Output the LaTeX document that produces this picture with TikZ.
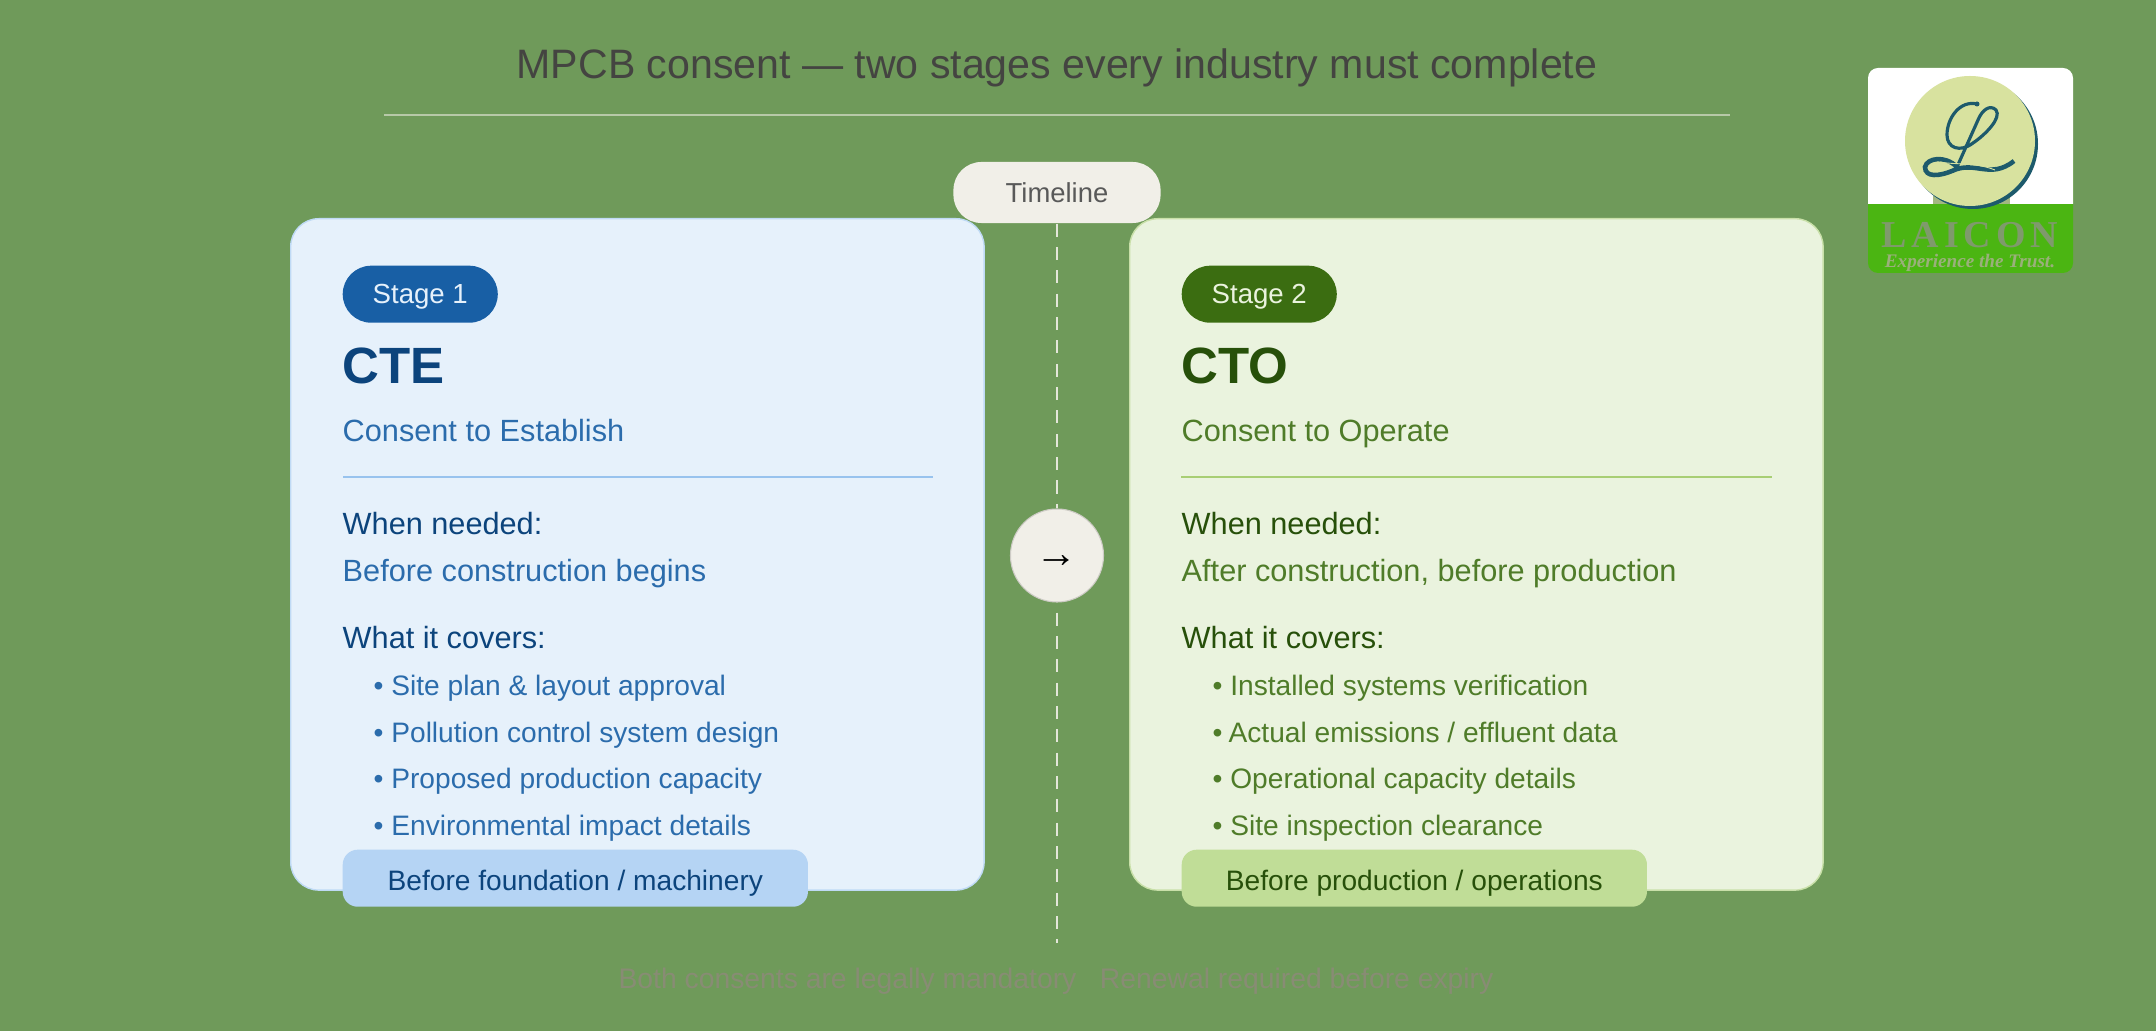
\documentclass[tikz,border=0pt]{standalone}
\usepackage{fontspec}
\setmainfont{Liberation Sans}
\newfontfamily\logofont{Liberation Serif}
\usetikzlibrary{positioning}
\definecolor{bggreen}{HTML}{6F9A5A}
\definecolor{blueA}{HTML}{E6F1FB}
\definecolor{blueB}{HTML}{B5D4F4}
\definecolor{blueC}{HTML}{85B7EB}
\definecolor{blueD}{HTML}{185FA5}
\definecolor{blueE}{HTML}{0C447C}
\definecolor{greenA}{HTML}{EAF3DE}
\definecolor{greenB}{HTML}{C0DD97}
\definecolor{greenC}{HTML}{97C459}
\definecolor{greenD}{HTML}{3B6D11}
\definecolor{greenE}{HTML}{27500A}
\definecolor{stone}{HTML}{F1EFE8}
\definecolor{titlegray}{HTML}{444441}
\definecolor{footgray}{HTML}{888C74}
\definecolor{logogreen}{HTML}{4BB512}
\definecolor{logodisc}{HTML}{D8E29F}
\definecolor{logoteal}{HTML}{1D5A6C}
\definecolor{logotext}{HTML}{7F9A6C}
\colorlet{bluetxt}{blueD!92!white}
\colorlet{greentxt}{greenD!90!white}
\tikzset{
  txt/.style={inner sep=0pt,anchor=base west,font=\fontsize{#1}{#1}\selectfont},
  card/.style={draw=#1,line width=0.4pt,rounded corners=0.28cm,anchor=north west,inner sep=0pt,
    minimum width=6.93cm,minimum height=6.71cm},
  stagepill/.style={inner sep=0pt,anchor=north west,rounded corners=0.285cm,minimum width=1.55cm,
    minimum height=0.57cm,text height=8pt,text depth=2.5pt,font=\fontsize{7.85}{8}\selectfont},
  tagbox/.style={inner sep=0pt,anchor=north west,rounded corners=0.15cm,minimum width=4.65cm,
    minimum height=0.57cm,text height=9.4pt,text depth=2.5pt,font=\fontsize{8}{8}\selectfont},
  rule/.style={line width=0.45pt},
  timeline/.style={draw=stone!90!bggreen,line width=0.75pt,dash pattern=on 0.13cm off 0.1033cm}
}
\begin{document}
\begin{tikzpicture}[x=0.01cm,y=-0.01cm]
\useasboundingbox (0,0) rectangle (2156,1031);
\fill[bggreen] (0,0) rectangle (2156,1031);
%title
\node[inner sep=0pt,anchor=base,text=titlegray,font=\fontsize{11.69}{12}\selectfont] (title) at (1057,79) {MPCB consent --- two stages every industry must complete};
\coordinate (titleL) at (384,115);
\coordinate (titleR) at (1730,115);
\draw[stone!55!bggreen,line width=0.6pt] (titleL) -- (titleR);
%cards
\node[card=blueC!40!blueA,fill=blueA] (cardA) at (290,218) {};
\node[card=greenC!40!greenA,fill=greenA] (cardB) at (1129,218) {};
%timeline
\node[fill=stone,inner sep=0pt,rounded corners=0.28cm,minimum width=2.07cm,minimum height=0.61cm,text=black!65,font=\fontsize{7.8}{8}\selectfont] (tl) at (1057,192.5) {Timeline};
\node[circle,fill=stone,draw=stone!85!black,line width=0.3pt,inner sep=0pt,minimum size=0.93cm,text height=6.7pt,text depth=0pt,font=\fontsize{12}{12}\selectfont] (arrownode) at (1057,555.5) {→};
\coordinate (tlend) at (1057,943);
\draw[timeline] (tl) -- (arrownode);
\draw[timeline,dash phase=0.133cm] (arrownode) -- (tlend);
%stage 1
\node[stagepill,fill=blueD,text=blueA] (stageA) at (342,265) {Stage 1};
\node[txt=14.5,text=blueE,font=\fontsize{14.5}{15}\bfseries\selectfont] (nameA) at (342,384) {CTE};
\node[txt=8.73,text=bluetxt] (longA) at (342,441.5) {Consent to Establish};
\coordinate (ruleAL) at (343,477);
\coordinate (ruleAR) at (933,477);
\draw[rule,blueC!80!blueA] (ruleAL) -- (ruleAR);
\node[txt=8.73,text=blueE] (whenA) at (342,534.5) {When needed:};
\node[txt=8.73,text=bluetxt] (whenAt) at (342,581.5) {Before construction begins};
\node[txt=8.73,text=blueE] (covA) at (342,648.5) {What it covers:};
\node[txt=8,text=bluetxt] (covA1) at (373,695.5) {• Site plan \& layout approval};
\node[txt=8,text=bluetxt] (covA2) at (373,742.5) {• Pollution control system design};
\node[txt=8,text=bluetxt] (covA3) at (373,788.5) {• Proposed production capacity};
\node[txt=8,text=bluetxt] (covA4) at (373,835.5) {• Environmental impact details};
\node[tagbox,fill=blueB,text=blueE] (tagA) at (342,849) {Before foundation / machinery};
%stage 2
\node[stagepill,fill=greenD,text=greenA] (stageB) at (1181,265) {Stage 2};
\node[txt=14.5,text=greenE,font=\fontsize{14.5}{15}\bfseries\selectfont] (nameB) at (1181,384) {CTO};
\node[txt=8.73,text=greentxt] (longB) at (1181,441.5) {Consent to Operate};
\coordinate (ruleBL) at (1181,477);
\coordinate (ruleBR) at (1772,477);
\draw[rule,greenC!80!greenA] (ruleBL) -- (ruleBR);
\node[txt=8.73,text=greenE] (whenB) at (1181,534.5) {When needed:};
\node[txt=8.73,text=greentxt] (whenBt) at (1181,581.5) {After construction, before production};
\node[txt=8.73,text=greenE] (covB) at (1181,648.5) {What it covers:};
\node[txt=8,text=greentxt] (covB1) at (1212,695.5) {• Installed systems verification};
\node[txt=8,text=greentxt] (covB2) at (1212,742.5) {•\hspace{-0.5pt} Actual emissions / effluent data};
\node[txt=8,text=greentxt] (covB3) at (1212,788.5) {• Operational capacity details};
\node[txt=8,text=greentxt] (covB4) at (1212,835.5) {• Site inspection clearance};
\node[tagbox,fill=greenB,text=greenE] (tagB) at (1181,849) {Before production / operations};
%footer
\node[inner sep=0pt,anchor=base,text=footgray,font=\fontsize{8.05}{8}\selectfont] (foot) at (1056,989) {Both consents are legally mandatory \ \ Renewal required before expiry};
%logo
\fill[logogreen,rounded corners=0.1cm] (1868,150) rectangle (2073,273);
\fill[white] (1868,204) [rounded corners=0.1cm] -- (1868,68) -- (2073,68) [sharp corners] -- (2073,204) -- cycle;
\fill[logotext!60!logodisc] (1933,196) rectangle (2010,204);
\fill[logoteal] (1973,144) circle (65);
\fill[logodisc] (1970,141) circle (65);
\draw[logoteal,line width=0.9pt] (1977,104) .. controls (1960,100) and (1947,118) .. (1947,135) .. controls (1947,148) and (1960,153) .. (1973,143) .. controls (1985,135) and (2002,118) .. (1996,110) .. controls (1990,104) and (1982,110) .. (1978,120) -- (1957,167);
\draw[logoteal,line width=1.3pt] (1957,167) .. controls (1945,155) and (1927,158) .. (1925,167) .. controls (1925,178) and (1940,176) .. (1952,171) .. controls (1975,160) and (1990,180) .. (2014,161);
\draw[logodisc,line width=0.25pt] (1940,162) .. controls (1955,165) and (1975,162) .. (1995,170);
\fill[logoteal] (1977,104) circle (2.5);
\node[inner sep=0pt,text=logotext,font=\logofont\fontsize{10.8}{11}\bfseries\selectfont] (logoname) at (1970,235) {L\kern1.4pt A\kern1.4pt I\kern1.4pt C\kern1.4pt O\kern1.4pt N};
\node[inner sep=0pt,text=logotext!70!logodisc,font=\logofont\fontsize{5.45}{5}\bfseries\itshape\selectfont] (logotag) at (1970,263) {Experience the Trust.};
\end{tikzpicture}
\end{document}
